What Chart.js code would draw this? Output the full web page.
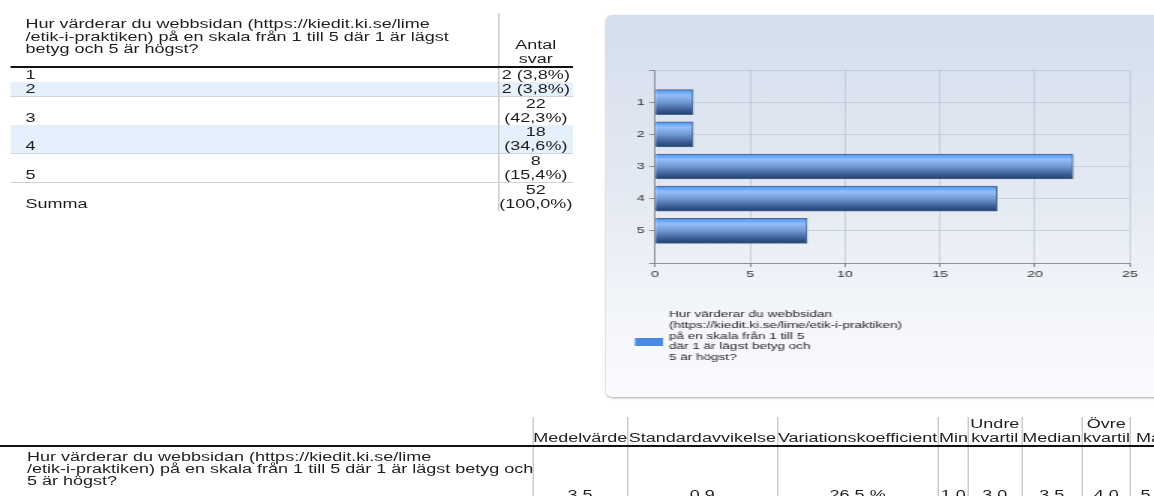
<!DOCTYPE html>
<html lang="sv">
<head>
<meta charset="utf-8">
<title>Hur värderar du webbsidan?</title>
<script src="https://cdn.jsdelivr.net/npm/chart.js@4.4.1/dist/chart.umd.min.js"></script>
<style>
  html, body { margin: 0; padding: 0; background: #fff; width: 1154px; height: 496px; overflow: hidden; }
  /* the report is laid out narrow and widened 1.5x, like the exported page */
  #sheet {
    position: absolute; left: 0; top: 0; width: 840px; height: 496px;
    transform: scaleX(1.5); transform-origin: 0 0;
    font-family: 'Liberation Sans', Arial, sans-serif; font-size: 12px; color: #1e1e1e;
  }
  table { border-collapse: collapse; table-layout: fixed; }
  th, td { padding: 0; font-weight: normal; line-height: 14px; white-space: nowrap; }

  #freq { position: absolute; left: 7px; top: 13px; width: 375px; }
  #freq tr.head { height: 54px; border-bottom: 2px solid #111; }
  #freq th.q { text-align: left; vertical-align: top; padding: 5px 0 0 10px; line-height: 12.5px; }
  #freq th.n { vertical-align: bottom; text-align: center; border-left: 1px solid #ccc; }
  #freq td.lab { padding-left: 10px; vertical-align: bottom; }
  #freq td.n { text-align: center; white-space: normal; border-left: 1px solid #ccc; }
  #freq tr.alt { background: #e4f0fb; border-bottom: 1px solid #cfd3d8; }
  #freq tr.sum { border-top: 1px solid #cfd3d8; }

  #stats { position: absolute; left: 0; top: 417px; }
  #stats tr.head { height: 28px; border-bottom: 2px solid #111; }
  #stats th { vertical-align: bottom; text-align: center; border-left: 1px solid #ccc; }
  #stats th.blank { border-left: none; }
  #stats tr.row { height: 56px; }
  #stats td.q { vertical-align: top; padding: 4px 0 0 18px; line-height: 12px; }
  #stats td.v { vertical-align: bottom; text-align: center; border-left: 1px solid #ccc; }

  #panel {
    position: absolute; left: 404px; top: 15px; width: 430px; height: 382px;
    border-radius: 5px;
    background: linear-gradient(to bottom, #d4dfed 0%, #e3e9f2 45%, #f4f6fa 80%, #fafbfd 100%);
    box-shadow: 0 1px 2px rgba(0,0,0,0.35);
  }
  #panel canvas { position: absolute; left: 0; top: 0; }
</style>
</head>
<body>
<div id="sheet">
  <table id="freq"></table>
  <div id="panel"><canvas id="chart" width="365" height="382"></canvas></div>
  <table id="stats"></table>
</div>

<script>
// svarsfördelning
const ratings = [1, 2, 3, 4, 5];
const counts = [2, 2, 22, 18, 8];
const countHeader = ['Antal', 'svar'];
const sumLabel = 'Summa';

// frågetexten, radbruten olika i tabellerna och i förklaringen
const freqQuestionLines = [
  'Hur värderar du webbsidan (https://kiedit.ki.se/lime',
  '/etik-i-praktiken) på en skala från 1 till 5 där 1 är lägst',
  'betyg och 5 är högst?'
];
const statsQuestionLines = [
  'Hur värderar du webbsidan (https://kiedit.ki.se/lime',
  '/etik-i-praktiken) på en skala från 1 till 5 där 1 är lägst betyg och',
  '5 är högst?'
];
const legendLines = [
  'Hur värderar du webbsidan',
  '(https://kiedit.ki.se/lime/etik-i-praktiken)',
  'på en skala från 1 till 5',
  'där 1 är lägst betyg och',
  '5 är högst?'
];

// sammanfattande mått
const statLabels = [['Medelvärde'], ['Standardavvikelse'], ['Variationskoefficient'], ['Min'],
  ['Undre', 'kvartil'], ['Median'], ['Övre', 'kvartil'], ['Max']];
const statValues = ['3,5', '0,9', '26,5 %', '1,0', '3,0', '3,5', '4,0', '5,0'];
const statWidths = [355, 63.5, 99.5, 107.5, 20, 35.5, 40.5, 32, 30];

const xTicks = { min: 0, max: 25, step: 5 };

const pct = (n, total) => (n / total * 100).toFixed(1).replace('.', ',') + '%';

// frekvenstabell
(function buildFreqTable() {
  const total = counts.reduce((a, b) => a + b, 0);
  let html = '<colgroup><col style="width:325px"><col style="width:50px"></colgroup>';
  html += '<tr class="head"><th class="q">' + freqQuestionLines.join('<br>') + '</th>' +
          '<th class="n">' + countHeader.join('<br>') + '</th></tr>';
  ratings.forEach((r, i) => {
    html += '<tr' + (i % 2 ? ' class="alt"' : '') + '><td class="lab">' + r + '</td>' +
            '<td class="n">' + counts[i] + ' (' + pct(counts[i], total) + ')</td></tr>';
  });
  html += '<tr class="sum"><td class="lab">' + sumLabel + '</td><td class="n">' + total +
          ' (' + pct(total, total) + ')</td></tr>';
  document.getElementById('freq').innerHTML = html;
})();

// statistiktabell
(function buildStatsTable() {
  let html = '<colgroup>' + statWidths.map(w => '<col style="width:' + w + 'px">').join('') + '</colgroup>';
  html += '<tr class="head"><th class="blank"></th>' +
          statLabels.map(l => '<th>' + l.join('<br>') + '</th>').join('') + '</tr>';
  html += '<tr class="row"><td class="q">' + statsQuestionLines.join('<br>') + '</td>' +
          statValues.map(v => '<td class="v">' + v + '</td>').join('') + '</tr>';
  const tbl = document.getElementById('stats');
  tbl.style.width = statWidths.reduce((a, b) => a + b, 0) + 'px';
  tbl.innerHTML = html;
})();

// staplarna: klarblå kant upptill, mörkt marinblått nedtill
function barFill(ctx) {
  const fallback = '#4f86d0';
  const chart = ctx.chart;
  const ys = chart.scales && chart.scales.y;
  if (ctx.type !== 'data' || !ys || !ctx.raw) return fallback;
  const mid = ys.getPixelForValue(ctx.raw.y);
  if (!Number.isFinite(mid)) return fallback;
  const g = chart.ctx.createLinearGradient(0, mid - 12.5, 0, mid + 12.5);
  g.addColorStop(0, '#4a90f2');
  g.addColorStop(0.22, '#92bff8');
  g.addColorStop(0.5, '#7199d4');
  g.addColorStop(0.8, '#3d5f98');
  g.addColorStop(1, '#22406e');
  return g;
}

// förklaring under diagrammet, flera rader
const legendBlock = {
  id: 'legendBlock',
  afterDraw(chart) {
    const c = chart.ctx;
    const left = chart.chartArea.left;
    c.save();
    c.fillStyle = '#4a8ae6';
    c.fillRect(left - 13.4, 323, 18.7, 8);
    c.fillStyle = '#262626';
    c.font = '9px "Liberation Sans", Arial, sans-serif';
    c.textBaseline = 'middle';
    legendLines.forEach((t, i) => c.fillText(t, left + 9.4, 300 + i * 10.6));
    c.restore();
  }
};

const axisColor = '#8c9096';
const gridColor = 'rgba(165,176,192,0.45)';
const tickFont = { family: "'Liberation Sans', Arial, sans-serif", size: 9.5 };

new Chart(document.getElementById('chart'), {
  type: 'bar',
  data: {
    datasets: [{
      label: legendLines.join(' '),
      data: ratings.map((r, i) => ({ x: counts[i], y: r })),
      backgroundColor: barFill,
      borderColor: 'rgba(38,66,112,0.8)',
      borderWidth: 1,
      barThickness: 25
    }]
  },
  options: {
    indexAxis: 'y',
    responsive: false,
    animation: false,
    layout: { padding: { left: 0, top: 55, right: 15.7, bottom: 114 } },
    plugins: { legend: { display: false }, tooltip: { enabled: false } },
    scales: {
      x: {
        type: 'linear',
        min: xTicks.min,
        max: xTicks.max,
        afterFit: s => { s.height = 20; },
        grid: { color: gridColor, tickColor: axisColor, tickLength: 4 },
        border: { color: axisColor },
        ticks: { stepSize: xTicks.step, color: '#333', font: tickFont, padding: 2 }
      },
      y: {
        type: 'linear',
        min: 0,
        max: ratings.length + 1,
        reverse: true,
        offset: false,
        afterFit: s => { s.width = 32.7; },
        grid: { offset: false, color: gridColor, tickColor: axisColor, tickLength: 4 },
        border: { color: axisColor },
        ticks: {
          stepSize: 1,
          color: '#333',
          font: tickFont,
          padding: 3,
          callback: v => ratings.includes(v) ? String(v) : ''
        }
      }
    }
  },
  plugins: [legendBlock]
});
</script>
</body>
</html>
